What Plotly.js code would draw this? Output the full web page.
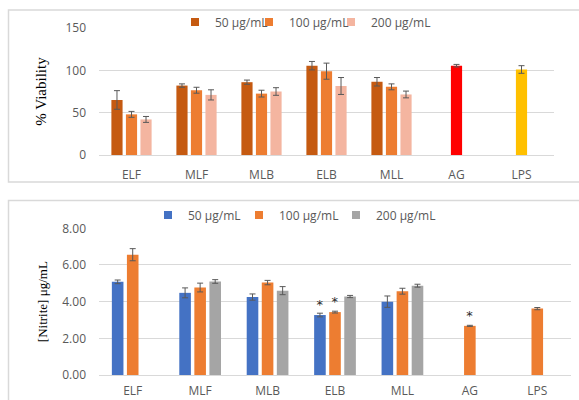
<!DOCTYPE html>
<html>
<head>
<meta charset="utf-8">
<script src="https://cdn.plot.ly/plotly-3.0.1.min.js"></script>
<style>html,body{margin:0;padding:0;background:#fff;}#chart{width:579px;height:400px;}</style>
</head>
<body>
<div id="chart"></div>
<script>
// Categories
const categories = ['ELF', 'MLF', 'MLB', 'ELB', 'MLL', 'AG', 'LPS'];
const seriesNames = ['50 μg/mL', '100 μg/mL', '200 μg/mL'];

// Top panel: % Viability
const viab50 = [65, 82, 86, 105.5, 86.5, null, null];
const viab50Err = [11, 2, 2.5, 5, 5, null, null];
const viab100 = [48, 76.5, 72.5, 99, 80.5, 105.5, 101];
const viab100Err = [3.5, 3.5, 4, 9.5, 3.5, 1.5, 4.5];
const viab200 = [42, 71, 75, 81.5, 71.5, null, null];
const viab200Err = [3.5, 6, 4.5, 10, 4, null, null];

// Bottom panel: [Nitrite] μg/mL
const nitrite50 = [5.08, 4.48, 4.25, 3.27, 4.0, null, null];
const nitrite50Err = [0.1, 0.27, 0.17, 0.1, 0.31, null, null];
const nitrite100 = [6.56, 4.77, 5.04, 3.43, 4.57, 2.68, 3.62];
const nitrite100Err = [0.33, 0.24, 0.12, 0.05, 0.16, 0.03, 0.06];
const nitrite200 = [null, 5.1, 4.6, 4.28, 4.87, null, null];
const nitrite200Err = [null, 0.1, 0.22, 0.06, 0.08, null, null];

// Significance marks
const sig50 = ['', '', '', '*', '', '', ''];
const sig100 = ['', '', '', '*', '', '*', ''];

// Colours
const topColors = ['#C55A11', '#ED7D31', '#F4B5A0'];
const topColors100 = ['#ED7D31', '#ED7D31', '#ED7D31', '#ED7D31', '#ED7D31', '#FF0000', '#FFC000'];
const botColors = ['#4472C4', '#ED7D31', '#A5A5A5'];

const errStyle = (arr) => ({type: 'data', array: arr, visible: true, color: '#595959', thickness: 1, width: 3});

function bar(y, err, color, name, xa, ya, legend, text) {
  return {
    type: 'bar', x: categories, y: y, name: name,
    xaxis: xa, yaxis: ya, legend: legend, showlegend: false,
    marker: {color: color, line: {width: 0}},
    error_y: errStyle(err),
    text: text || null, textposition: 'outside', cliponaxis: false,
    textfont: {family: 'DejaVu Sans', size: 13, color: '#2a2a2a'},
    hoverinfo: 'x+y'
  };
}
// legend-only entries (small square swatches like the original legend)
function legendItem(color, name, xa, ya, legend, w) {
  return {
    type: 'scatter', mode: 'markers', x: [categories[0]], y: [null], name: name,
    xaxis: xa, yaxis: ya, legend: legend, showlegend: true, legendwidth: w,
    marker: {symbol: 'square', size: 8, color: color}
  };
}

const data = [
  bar(viab50, viab50Err, topColors[0], seriesNames[0], 'x', 'y', 'legend'),
  bar(viab100, viab100Err, topColors100, seriesNames[1], 'x', 'y', 'legend'),
  bar(viab200, viab200Err, topColors[2], seriesNames[2], 'x', 'y', 'legend'),
  legendItem(topColors[0], seriesNames[0], 'x', 'y', 'legend', 29),
  legendItem(topColors[1], seriesNames[1], 'x', 'y', 'legend', 37),
  legendItem(topColors[2], seriesNames[2], 'x', 'y', 'legend', 70),
  bar(nitrite50, nitrite50Err, botColors[0], seriesNames[0], 'x2', 'y2', 'legend2', sig50),
  bar(nitrite100, nitrite100Err, botColors[1], seriesNames[1], 'x2', 'y2', 'legend2', sig100),
  bar(nitrite200, nitrite200Err, botColors[2], seriesNames[2], 'x2', 'y2', 'legend2'),
  legendItem(botColors[0], seriesNames[0], 'x2', 'y2', 'legend2', 46),
  legendItem(botColors[1], seriesNames[1], 'x2', 'y2', 'legend2', 52),
  legendItem(botColors[2], seriesNames[2], 'x2', 'y2', 'legend2', 70)
];

const tickFont = {family: 'Open Sans', size: 12, color: '#595959'};
const grid = '#D9D9D9';

const xaxisBase = {
  type: 'category', categoryorder: 'array', categoryarray: categories,
  showgrid: false, showline: true, linecolor: grid, linewidth: 1,
  ticks: '', tickfont: tickFont, fixedrange: true
};
const yaxisBase = {
  showgrid: true, gridcolor: grid, gridwidth: 1, zeroline: false,
  showline: false, ticks: '', tickfont: tickFont, ticklabelstandoff: 12, fixedrange: true
};

const layout = {
  width: 579, height: 400,
  margin: {l: 0, r: 0, t: 0, b: 0},
  paper_bgcolor: '#ffffff', plot_bgcolor: '#ffffff',
  barmode: 'group', bargap: 0.33, bargroupgap: 0.23,
  font: {family: 'Open Sans', color: '#595959'},
  xaxis: Object.assign({}, xaxisBase, {domain: [99/579, 554/579], anchor: 'y', ticklabelstandoff: 9}),
  yaxis: Object.assign({}, yaxisBase, {domain: [1 - 155/400, 1 - 28/400], anchor: 'x',
    range: [0, 150], dtick: 50, tick0: 0,
    title: {text: '% Viability', font: {family: 'Liberation Serif', size: 15, color: '#000000'}, standoff: 15}}),
  xaxis2: Object.assign({}, xaxisBase, {domain: [99/579, 571/579], anchor: 'y2', ticklabelstandoff: 5}),
  yaxis2: Object.assign({}, yaxisBase, {domain: [1 - 375/400, 1 - 228.3/400], anchor: 'x2',
    range: [0, 8], dtick: 2, tick0: 0, tickformat: '.2f',
    title: {text: '[Nitrite] μg/mL', font: {family: 'Liberation Serif', size: 13, color: '#000000'}, standoff: 11}}),
  legend: {orientation: 'h', x: 175/579, xanchor: 'left', y: 1 - 22/400, yanchor: 'middle',
    font: {family: 'Open Sans', size: 12, color: '#595959'}, bgcolor: 'rgba(0,0,0,0)'},
  legend2: {orientation: 'h', x: 148/579, xanchor: 'left', y: 1 - 215/400, yanchor: 'middle',
    font: {family: 'Open Sans', size: 12, color: '#595959'}, bgcolor: 'rgba(0,0,0,0)'},
  shapes: [
    {type: 'rect', xref: 'paper', yref: 'paper', x0: 8.5/579, x1: 1.02, y0: 1 - 182/400, y1: 1 - 10/400,
      line: {color: '#D9D9D9', width: 1.5}, fillcolor: 'rgba(0,0,0,0)', layer: 'below'},
    {type: 'rect', xref: 'paper', yref: 'paper', x0: 8.5/579, x1: 1.02, y0: -0.05, y1: 1 - 200.5/400,
      line: {color: '#D9D9D9', width: 1.5}, fillcolor: 'rgba(0,0,0,0)', layer: 'below'}
  ]
};

Plotly.newPlot('chart', data, layout, {staticPlot: true, displayModeBar: false});
</script>
</body>
</html>
